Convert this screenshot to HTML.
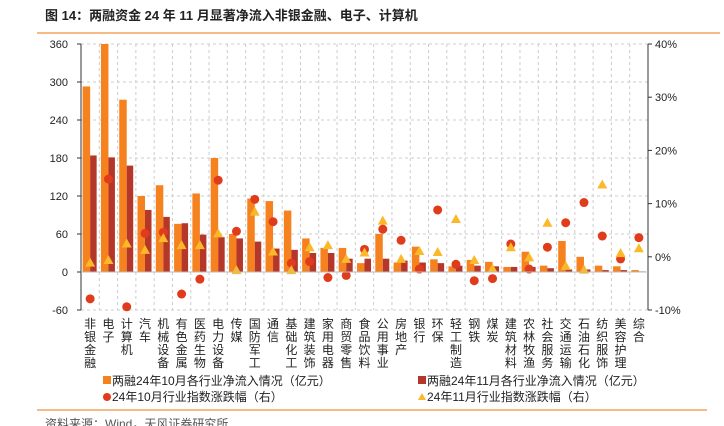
<!DOCTYPE html>
<html><head><meta charset="utf-8"><style>
html,body{margin:0;padding:0;background:#fff;}
svg{display:block;font-family:"Liberation Sans","Noto Sans CJK SC",sans-serif;}
</style></head><body>
<svg id="c" width="724" height="426" viewBox="0 0 724 426">
<text x="45" y="20" font-size="13" font-weight="bold" fill="#222">图 14：两融资金 24 年 11 月显著净流入非银金融、电子、计算机</text>
<line x1="37" y1="33" x2="720" y2="33" stroke="#f4a460" stroke-width="1.5"/>
<line x1="37" y1="410" x2="707" y2="410" stroke="#f4a460" stroke-width="1.5"/>
<text x="45" y="428" font-size="12" fill="#555">资料来源：Wind，天风证券研究所</text>
<g id="grid"></g><g id="bars"></g><g id="marks"></g><g id="axes"></g><g id="labels"></g>
<g>
<rect x="103" y="376" width="8" height="8" fill="#f5821f"/>
<text x="112" y="385" font-size="12" fill="#222">两融24年10月各行业净流入情况（亿元）</text>
<circle cx="107" cy="397" r="4" fill="#e03c1c"/>
<text x="112" y="401" font-size="12" fill="#222">24年10月行业指数涨跌幅（右）</text>
<rect x="418" y="376" width="8" height="8" fill="#b5372a"/>
<text x="427" y="385" font-size="12" fill="#222">两融24年11月各行业净流入情况（亿元）</text>
<polygon points="422,393 426,400 418,400" fill="#fbb829"/>
<text x="427" y="401" font-size="12" fill="#222">24年11月行业指数涨跌幅（右）</text>
</g>
</svg>
<script>
const categories=["非银金融","电子","计算机","汽车","机械设备","有色金属","医药生物","电力设备","传媒","国防军工","通信","基础化工","建筑装饰","家用电器","商贸零售","食品饮料","公用事业","房地产","银行","环保","轻工制造","钢铁","煤炭","建筑材料","农林牧渔","社会服务","交通运输","石油石化","纺织服饰","美容护理","综合"];
const octFlow=[293,360,272,120,137,76,124,180,60,116,112,97,53,38,38,14,60,15,40,20,9,19,16,8,32,10,49,24,10,9,3];
const novFlow=[184,181,168,98,87,77,59,55,53,48,37,35,30,30,21,21,21,18,15,14,10,10,9,8,8,6,4,4,3,3,1];
const octPct=[-7.9,14.6,-9.4,4.4,4.6,-7.0,-4.2,14.4,4.8,10.8,6.6,-1.2,-0.9,-3.9,-3.5,1.4,5.2,3.1,-2.3,8.8,-1.4,-4.5,-4.1,2.4,-2.3,1.8,6.4,10.2,3.9,-0.4,3.6];
const novPct=[-1.1,-0.6,2.5,1.3,3.5,2.2,2.2,4.4,-2.5,8.5,1.0,-2.5,1.8,2.2,-0.4,0.8,6.8,-0.4,1.1,0.9,7.1,-0.6,-2.2,1.8,-0.1,6.4,-1.7,-2.4,13.6,0.7,1.6];
const leftTicks=[-60,0,60,120,180,240,300,360];
const rightTicks=[-10,0,10,20,30,40];
const NS="http://www.w3.org/2000/svg";
const X0=81,X1=648,YT=44,YB=310;
const yL=v=>YB-(v+60)/420*(YB-YT);
const yR=v=>YB-(v+10)/50*(YB-YT);
const bw=(X1-X0)/categories.length;
const xC=i=>X0+bw*(i+0.5);
function mk(p,t,a){const e=document.createElementNS(NS,t);for(const k in a)e.setAttribute(k,a[k]);document.getElementById(p).appendChild(e);return e;}
leftTicks.forEach(v=>{
 if(v!==0){const g=mk('grid','line',{x1:X0,x2:X1,y1:yL(v),y2:yL(v),stroke:'#ccc','stroke-dasharray':'3,3'});
 
 }
 const t=mk('axes','text',{x:X0-13,y:yL(v)+4,'font-size':11,'text-anchor':'end',fill:'#222'});t.textContent=v;
 
 
});
rightTicks.forEach(v=>{
 const t=mk('axes','text',{x:X1+7,y:yR(v)+4,'font-size':11,fill:'#222'});t.textContent=v+'%';
 
 
 mk('axes','line',{x1:X1,x2:X1+4,y1:yR(v),y2:yR(v),stroke:'#333'});
});
for(let i=1;i<=categories.length;i++){
 const g=mk('grid','line',{x1:X0+bw*i,x2:X0+bw*i,y1:YT,y2:YB,stroke:'#ccc','stroke-dasharray':'3,3'});
 
 
}
mk('axes','line',{x1:X0,x2:X0,y1:YT,y2:YB,stroke:'#333'});
mk('axes','line',{x1:X1,x2:X1,y1:YT,y2:YB,stroke:'#333'});
leftTicks.forEach(v=>mk('axes','line',{x1:X0-4,x2:X0,y1:yL(v),y2:yL(v),stroke:'#333'}));
mk('axes','line',{x1:X0,x2:X1,y1:yL(0),y2:yL(0),stroke:'#bbb'});
categories.forEach((c,i)=>{
 const cx=xC(i);
 let r=mk('bars','rect',{x:cx-7.5,y:yL(Math.max(octFlow[i],0)),width:7.5,height:Math.abs(yL(octFlow[i])-yL(0)),fill:'#f5821f'});
 
 
 r=mk('bars','rect',{x:cx,y:yL(Math.max(novFlow[i],0)),width:6.5,height:Math.abs(yL(novFlow[i])-yL(0)),fill:'#b5372a'});
 
 
 const py=yR(octPct[i]);
 const d=mk('marks','circle',{cx:cx,cy:py,r:4.5,fill:'#e03c1c'});
 
 
 const ty=yR(novPct[i]);
 const tr=mk('marks','polygon',{points:`${cx},${ty-5} ${cx+5},${ty+4} ${cx-5},${ty+4}`,fill:'#fbb829'});
 
 
 const t=mk('labels','text',{x:cx,'font-size':12,'text-anchor':'middle',fill:'#222'});
 
 
 [...c].forEach((ch,k)=>{const s=document.createElementNS(NS,'tspan');s.setAttribute('x',cx);s.setAttribute('y',328+k*13);s.textContent=ch;t.appendChild(s);});
});
</script>
</body></html>
